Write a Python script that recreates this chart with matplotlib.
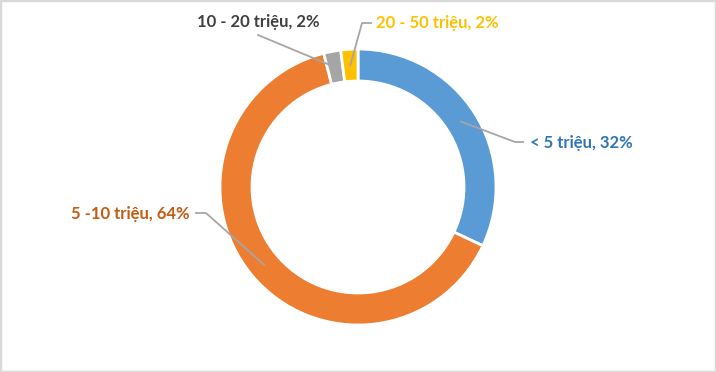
import numpy as np
import matplotlib.pyplot as plt
from matplotlib.patches import Rectangle

# dữ liệu
labels = ["< 5 triệu", "5 -10 triệu", "10 - 20 triệu", "20 - 50 triệu"]
shares = [32, 64, 2, 2]
colors = ["#5B9BD5", "#ED7D31", "#A5A5A5", "#FFC000"]
text_colors = ["#2E75B6", "#C55A11", "#404040", "#FFC000"]

W, H = 716, 372
fig = plt.figure(figsize=(W / 100, H / 100), dpi=100)
ax = fig.add_axes([0, 0, 1, 1])

cx, cy = 358, H - 187
R, ring = 138, 32
wedges, _ = ax.pie(shares, colors=colors, startangle=90, counterclock=False,
                   center=(cx, cy), radius=R, frame=True,
                   wedgeprops=dict(width=ring, edgecolor="white", linewidth=2))
ax.set_xlim(0, W)
ax.set_ylim(0, H)
ax.set_aspect("equal")
ax.axis("off")

# vị trí nhãn (pixel), căn lề và đường dẫn
label_pos = [(530, 143, "left"), (190, 214, "right"), (197, 22, "left"), (376, 23, "left")]
elbows = [[(523, 142), (515, 142)], [(196, 213), (206, 213)],
          [(258, 35)], [(371, 23), (362, 23)]]

for w, lab, s, tc, (tx, ty, ha), elb in zip(wedges, labels, shares, text_colors, label_pos, elbows):
    mid = np.deg2rad((w.theta1 + w.theta2) / 2)
    ax_pt = (cx + 122 * np.cos(mid), cy + 122 * np.sin(mid))
    pts = [(x, H - y) for x, y in elb] + [ax_pt]
    ax.plot([p[0] for p in pts], [p[1] for p in pts], color="#A6A6A6", lw=1.3, zorder=5)
    ax.text(tx, H - ty, f"{lab}, {s}%", ha=ha, va="center", color=tc,
            fontsize=12, fontweight="bold", family=["Lato", "DejaVu Sans"])

fig.patches.append(Rectangle((0, 0), 1, 1, transform=fig.transFigure, fill=False,
                             edgecolor="#D9D9D9", linewidth=2.5))
fig.savefig("out.png", dpi=100)
